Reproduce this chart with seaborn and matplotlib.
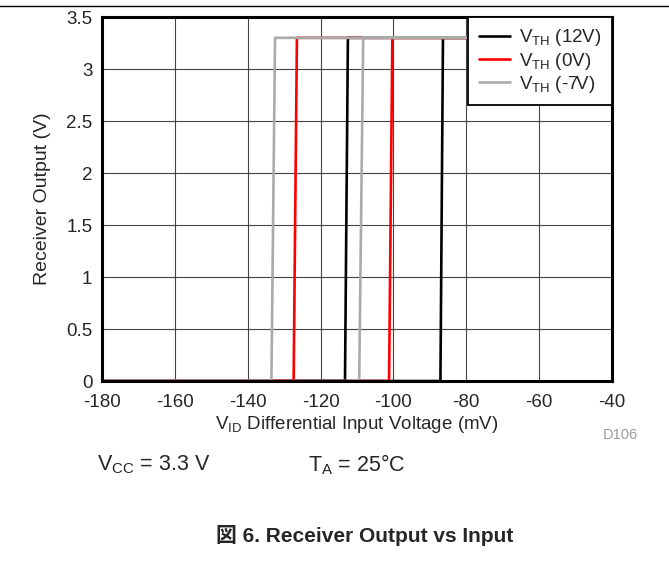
import numpy as np
import pandas as pd
import matplotlib.pyplot as plt
import seaborn as sns

# hysteresis thresholds (mV), bottom / top of each edge
series = ["$\\mathrm{V_{TH}}$ (12V)", "$\\mathrm{V_{TH}}$ (0V)", "$\\mathrm{V_{TH}}$ (-7V)"]
colors = ["#000000", "#ff0000", "#aaaaaa"]
rise_bottom = [-87.1, -101.2, -109.4]
rise_top = [-86.4, -100.3, -108.3]
fall_top = [-112.5, -126.5, -132.5]
fall_bottom = [-113.3, -127.4, -133.5]
v_low = 0.0
v_high = 3.3
x_min, x_max = -180, -40

x_ticks = [-180, -160, -140, -120, -100, -80, -60, -40]
y_ticks = [0, 0.5, 1, 1.5, 2, 2.5, 3, 3.5]
y_tick_labels = ["0", "0.5", "1", "1.5", "2", "2.5", "3", "3.5"]

sns.set_style("white")
plt.rcParams["font.family"] = ["Liberation Sans", "Noto Sans CJK JP"]
plt.rcParams["mathtext.fontset"] = "custom"
plt.rcParams["mathtext.rm"] = "Liberation Sans"

rows = []
for i, name in enumerate(series):
    xs = [x_min, rise_bottom[i], rise_top[i], x_max, fall_top[i], fall_bottom[i], x_min]
    ys = [v_low, v_low, v_high, v_high, v_high, v_low, v_low]
    for k, (a, b) in enumerate(zip(xs, ys)):
        rows.append({"series": name, "order": k, "x": a, "y": b})
df = pd.DataFrame(rows)

fig = plt.figure(figsize=(6.69, 5.81), dpi=100)
ax = fig.add_axes([0.1525, 0.3442, 0.7623, 0.6265])

for name, c in zip(series, colors):
    d = df[df["series"] == name]
    sns.lineplot(data=d, x="x", y="y", sort=False, estimator=None, color=c,
                 linewidth=1.9, label=name, ax=ax, zorder=3)

ax.set_xlim(x_min, x_max)
ax.set_ylim(0, 3.5)
ax.set_xticks(x_ticks)
ax.set_xticklabels([str(t) for t in x_ticks])
ax.set_yticks(y_ticks)
ax.set_yticklabels(y_tick_labels)
ax.grid(True, color="#444444", linewidth=0.8)
ax.tick_params(axis="both", direction="in", length=0, labelsize=13.5)
ax.tick_params(axis="x", pad=9)
ax.tick_params(axis="y", pad=7)
for s in ax.spines.values():
    s.set_linewidth(2.2)
    s.set_color("black")
    s.set_zorder(5)

ax.set_xlabel("$\\mathrm{V_{ID}}$ Differential Input Voltage (mV)", fontsize=13.5)
ax.xaxis.set_label_coords(0.5, -0.09)
ax.set_ylabel("Receiver Output (V)", fontsize=14)
ax.yaxis.set_label_coords(-0.1, 0.5)

leg = ax.legend(loc="upper right", fontsize=13.5, frameon=True, fancybox=False,
                handlelength=1.65, borderaxespad=0, labelspacing=0.12,
                borderpad=0.55, handletextpad=0.5)
leg.get_frame().set_edgecolor("black")
leg.get_frame().set_linewidth(1.3)
leg.get_frame().set_alpha(1)
leg.set_zorder(6)

fig.add_artist(plt.Line2D([0, 1], [1 - 6 / 581, 1 - 6 / 581], color="black", linewidth=1))
fig.text(620 / 669, 1 - 435 / 581, "D106", fontsize=10.5, color="#999999", ha="center", va="center")
fig.text(97 / 669, 1 - 465 / 581, "$\\mathrm{V_{CC}}$ = 3.3 V", fontsize=15.5, ha="left", va="center")
fig.text(308 / 669, 1 - 465 / 581, "$\\mathrm{T_{A}}$ = 25°C", fontsize=15.5, ha="left", va="center")
fig.text(365 / 669, 1 - 536 / 581, "図 6. Receiver Output vs Input", fontsize=15,
         fontweight="bold", ha="center", va="center")

fig.savefig("out.png", dpi=100)
